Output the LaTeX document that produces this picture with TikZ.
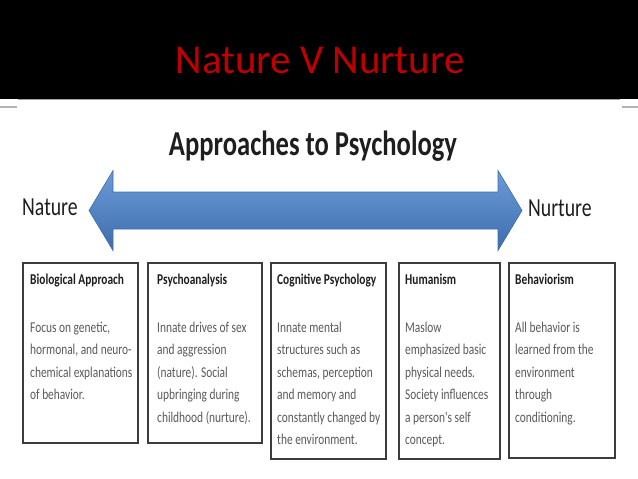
\documentclass[tikz,border=0pt]{standalone}
\usepackage{fontspec}
\setmainfont{Carlito}
\newfontfamily\slimfont[FakeStretch=0.76]{Carlito}
\usetikzlibrary{positioning}
\definecolor{TitleRed}{HTML}{C00000}
\definecolor{ArrowLight}{HTML}{6B9BD8}
\definecolor{ArrowDark}{HTML}{3E6CAD}
\definecolor{CardEdge}{HTML}{3C3C3C}
\definecolor{HeadInk}{HTML}{1E1E1E}
\definecolor{BodyInk}{HTML}{5A5A5A}
\definecolor{RuleGray}{HTML}{A0A0A0}
\tikzset{
  slidetitle/.style={text=TitleRed, inner sep=0pt, font=\fontsize{41}{48}\selectfont},
  charttitle/.style={text=HeadInk, inner sep=0pt, font=\slimfont\bfseries\fontsize{35}{40}\selectfont},
  sidelabel/.style={text=HeadInk, inner sep=0pt, font=\slimfont\fontsize{26}{30}\selectfont},
  card/.style={draw=CardEdge, line width=1.6pt, fill=white, inner sep=0pt, anchor=north west},
  cardtext/.style={anchor=north west, inner sep=0pt, align=left, text=BodyInk, font=\slimfont\fontsize{15}{22.5}\selectfont},
  bararrow/.style={top color=ArrowLight, bottom color=ArrowDark, draw=ArrowDark, line width=0.6pt}
}
\newcommand{\cardhead}[1]{{\bfseries\color{HeadInk}#1}\\[25.5pt]}

\begin{document}
\begin{tikzpicture}[x=1pt, y=-1pt]
\useasboundingbox (0,0) rectangle (638,479);
\fill[white] (0,0) rectangle (638,479);
\fill[black] (0,0) rectangle (638,99);
\draw[RuleGray, line width=1.2pt] (18,99.6) -- (620,99.6);
\draw[RuleGray!80, line width=2pt] (0,107) -- (17,107);
\draw[RuleGray!80, line width=2pt] (622,107) -- (638,107);

\node[slidetitle, anchor=base] (title) at (320,73) {Nature V Nurture};
\node[charttitle, anchor=base] (approaches) at (313,155) {Approaches to Psychology};

\coordinate (natTip) at (89,210.5);
\coordinate (nurTip) at (522,210.5);
\path[bararrow] (natTip) -- (113,170.5) -- (113,192) -- (498,192) -- (498,170.5) -- (nurTip)
  -- (498,250.5) -- (498,229) -- (113,229) -- (113,250.5) -- cycle;
\node[sidelabel, anchor=base west] (nature) at (22,215) {Nature};
\node[sidelabel, anchor=base west] (nurture) at (528,216) {Nurture};

\node[card, minimum width=115, minimum height=180] (bio) at (22,262) {};
\node[card, minimum width=114, minimum height=180] (psy) at (147,262) {};
\node[card, minimum width=115, minimum height=196] (cog) at (270,262) {};
\node[card, minimum width=101, minimum height=196] (hum) at (398,262) {};
\node[card, minimum width=106, minimum height=195] (beh) at (508,262) {};

\node[cardtext] (bioText) at ([shift={(8,11.5)}]bio.north west)
  {\cardhead{Biological Approach}Focus on genetic,\\hormonal, and neuro-\\chemical explanations\\of behavior.};
\node[cardtext] (psyText) at ([shift={(10,11.5)}]psy.north west)
  {\cardhead{Psychoanalysis}Innate drives of sex\\and aggression\\(nature). Social\\upbringing during\\childhood (nurture).};
\node[cardtext] (cogText) at ([shift={(7,11.5)}]cog.north west)
  {\cardhead{Cognitive Psychology}Innate mental\\structures such as\\schemas, perception\\and memory and\\constantly changed by\\the environment.};
\node[cardtext] (humText) at ([shift={(7,11.5)}]hum.north west)
  {\cardhead{Humanism}Maslow\\emphasized basic\\physical needs.\\Society influences\\a person's self\\concept.};
\node[cardtext] (behText) at ([shift={(7,11.5)}]beh.north west)
  {\cardhead{Behaviorism}All behavior is\\learned from the\\environment\\through\\conditioning.};
\end{tikzpicture}
\end{document}
